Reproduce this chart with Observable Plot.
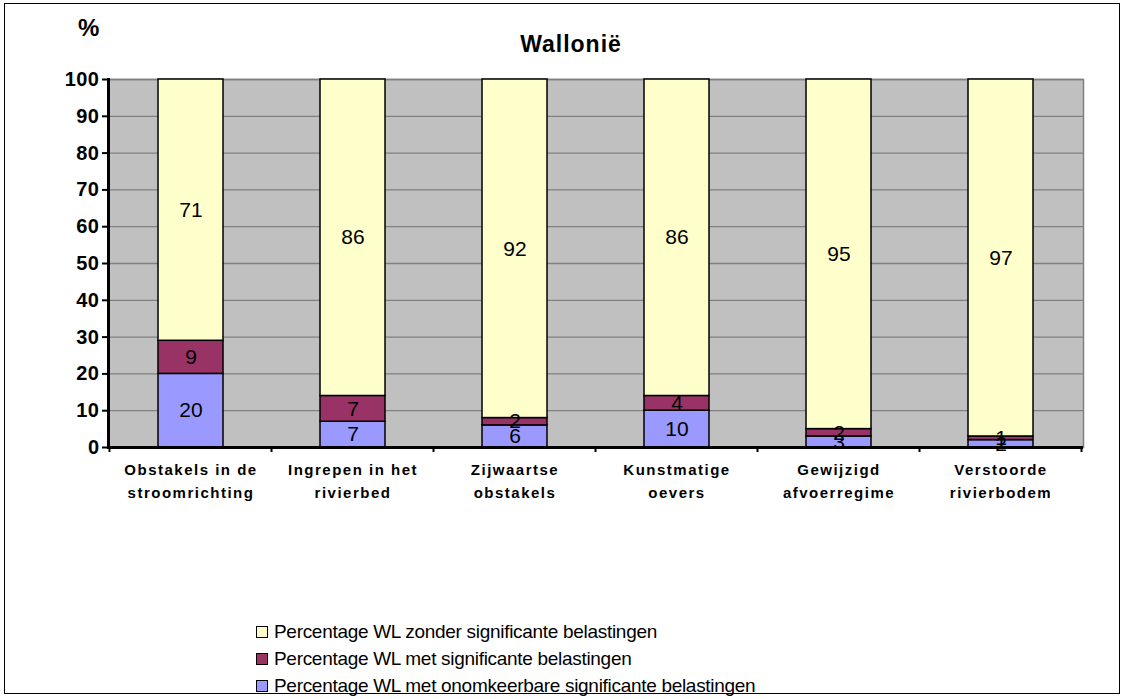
<!DOCTYPE html>
<html>
<head>
<meta charset="utf-8">
<script src="https://cdn.jsdelivr.net/npm/d3@7"></script>
<script src="https://cdn.jsdelivr.net/npm/@observablehq/plot@0.6"></script>
<style>
  html, body { margin: 0; padding: 0; background: #fff; }
  body { width: 1125px; height: 699px; position: relative; overflow: hidden; font-family: Arial, "Liberation Sans", sans-serif; }
  #frame { position: absolute; left: 4px; top: 3px; width: 1116px; height: 691px; border: 1px solid #000; box-sizing: border-box; }
  #chart { position: absolute; left: 0; top: 0; }
  #title { position: absolute; left: 421px; width: 300px; top: 31px; text-align: center; font-weight: bold; font-size: 23px; letter-spacing: 1px; }
  #pct { position: absolute; left: 78px; top: 14px; font-weight: bold; font-size: 24px; }
  #legend { position: absolute; left: 256px; top: 618px; font-size: 19px; letter-spacing: -0.3px; }
  .item { height: 27px; line-height: 24px; display: flex; align-items: center; }
  .sw { width: 10px; height: 10px; border: 1px solid #000; margin-right: 6px; }
</style>
</head>
<body>
<div id="frame"></div>
<div id="chart"></div>
<div id="pct">%</div>
<div id="title">Wallonië</div>
<div id="legend"></div>
<script>
const categories = ["Obstakels in de\nstroomrichting", "Ingrepen in het\nrivierbed", "Zijwaartse\nobstakels", "Kunstmatige\noevers", "Gewijzigd\nafvoerregime", "Verstoorde\nrivierbodem"];
const seriesNames = ["Percentage WL met onomkeerbare significante belastingen", "Percentage WL met significante belastingen", "Percentage WL zonder significante belastingen"];
const seriesColors = ["#9999FF", "#993366", "#FFFFCC"];
const irreversible = [20, 7, 6, 10, 3, 2];
const significant = [9, 7, 2, 4, 2, 1];
const without = [71, 86, 92, 86, 95, 97];
const yTicks = [0, 10, 20, 30, 40, 50, 60, 70, 80, 90, 100];

const seriesValues = [irreversible, significant, without];
const rows = [];
categories.forEach((c, i) => {
  seriesValues.forEach((vals, s) => rows.push({cat: c, series: seriesNames[s], value: vals[i]}));
});

const chart = Plot.plot({
  width: 1125,
  height: 699,
  marginLeft: 108,
  marginRight: 42,
  marginTop: 79,
  marginBottom: 252,
  style: {fontFamily: "Arial, 'Liberation Sans', sans-serif", background: "transparent", overflow: "visible"},
  x: {domain: categories, paddingInner: 0.6, paddingOuter: 0.3, label: null},
  y: {domain: [0, 100], label: null},
  color: {domain: seriesNames, range: seriesColors},
  marks: [
    Plot.frame({fill: "#C0C0C0", stroke: "#808080", strokeWidth: 1.5}),
    Plot.ruleY(yTicks, {stroke: "#808080", strokeWidth: 1.3}),
    Plot.barY(rows, Plot.stackY({x: "cat", y: "value", z: "series", fill: "series", stroke: "#000", strokeWidth: 1.5, order: null})),
    Plot.text(rows, Plot.stackY({x: "cat", y: "value", z: "series", text: "value", order: null, fontSize: 21, fill: "#000"})),
    Plot.axisY({ticks: yTicks, tickSize: 6, tickPadding: 3, fontSize: 20, fontWeight: "bold", stroke: "#000", strokeWidth: 2, label: null}),
    Plot.axisX({tickSize: 0, tickPadding: 12, fontSize: 15, fontWeight: "bold", lineHeight: 1.5, label: null}),
    Plot.ruleY([0], {stroke: "#000", strokeWidth: 3}),
    Plot.frame({anchor: "left", stroke: "#000", strokeWidth: 3})
  ]
});
const svg = d3.select(chart.tagName.toLowerCase() === "svg" ? chart : chart.querySelector("svg"));
svg.selectAll("g[aria-label='x-axis tick label'] text").attr("letter-spacing", "1.5px");
svg.selectAll("g[aria-label='y-axis tick label'] text").attr("letter-spacing", "0.5px");
// category boundary ticks below the x axis, from the x scale
const xs = chart.scale("x");
const y0 = chart.scale("y").apply(0);
const gap = (xs.step - xs.bandwidth) / 2;
const bounds = categories.map(c => xs.apply(c) - gap).concat([xs.apply(categories[categories.length - 1]) + xs.bandwidth + gap]);
svg.append("g").selectAll("line").data(bounds).join("line")
  .attr("x1", d => d).attr("x2", d => d).attr("y1", y0).attr("y2", y0 + 5)
  .attr("stroke", "#000").attr("stroke-width", 2);
document.getElementById("chart").appendChild(chart);

const legend = document.getElementById("legend");
[2, 1, 0].forEach(s => {
  const d = document.createElement("div");
  d.className = "item";
  d.innerHTML = `<span class="sw" style="background:${seriesColors[s]}"></span><span>${seriesNames[s]}</span>`;
  legend.appendChild(d);
});
</script>
</body>
</html>
